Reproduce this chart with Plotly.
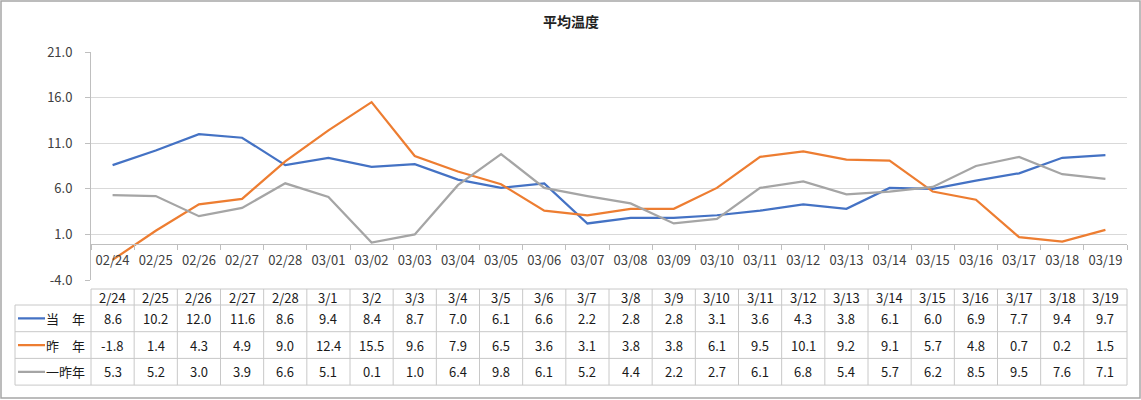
import plotly.graph_objects as go

W, H = 1141, 400

categories = ['02/24', '02/25', '02/26', '02/27', '02/28', '03/01', '03/02', '03/03',
              '03/04', '03/05', '03/06', '03/07', '03/08', '03/09', '03/10', '03/11',
              '03/12', '03/13', '03/14', '03/15', '03/16', '03/17', '03/18', '03/19']
table_dates = ['2/24', '2/25', '2/26', '2/27', '2/28', '3/1', '3/2', '3/3', '3/4', '3/5',
               '3/6', '3/7', '3/8', '3/9', '3/10', '3/11', '3/12', '3/13', '3/14', '3/15',
               '3/16', '3/17', '3/18', '3/19']
this_year = [8.6, 10.2, 12.0, 11.6, 8.6, 9.4, 8.4, 8.7, 7.0, 6.1, 6.6, 2.2,
             2.8, 2.8, 3.1, 3.6, 4.3, 3.8, 6.1, 6.0, 6.9, 7.7, 9.4, 9.7]
last_year = [-1.8, 1.4, 4.3, 4.9, 9.0, 12.4, 15.5, 9.6, 7.9, 6.5, 3.6, 3.1,
             3.8, 3.8, 6.1, 9.5, 10.1, 9.2, 9.1, 5.7, 4.8, 0.7, 0.2, 1.5]
two_years_ago = [5.3, 5.2, 3.0, 3.9, 6.6, 5.1, 0.1, 1.0, 6.4, 9.8, 6.1, 5.2,
                 4.4, 2.2, 2.7, 6.1, 6.8, 5.4, 5.7, 6.2, 8.5, 9.5, 7.6, 7.1]
series_names = ['当　年', '昨　年', '一昨年']
series_colors = ['#4472C4', '#ED7D31', '#A5A5A5']
title = '平均温度'

y_min, y_max, y_step = -4, 21, 5

FONT = 'Noto Sans CJK JP'
TXT = '#404040'
CELL_TXT = '#1a1a1a'
GRID = '#d9d9d9'
AXIS = '#bfbfbf'
TBL_LINE = '#c8c8c8'

# ---- layout geometry (pixels) ----
px_left, px_right = 91, 1127          # plot area
px_top, px_bottom = 52, 280
tbl_left, tbl_top = 15, 289           # data table
hdr_h, row_h = 16, 26.7
n = len(categories)
cat_w = (px_right - px_left) / n
leg_units = (px_left - tbl_left) / cat_w
pad = 0.06                             # in column units, avoids clipping border lines
pad_px = 2

series = [this_year, last_year, two_years_ago]

fig = go.Figure()
for name, vals, col in zip(series_names, series, series_colors):
    fig.add_trace(go.Scatter(x=categories, y=vals, mode='lines', name=name,
                             line=dict(color=col, width=2.25), showlegend=False,
                             hoverinfo='x+y'))

y_dom = [1 - px_bottom / H, 1 - px_top / H]
zero_pos = y_dom[0] + (0 - y_min) / (y_max - y_min) * (y_dom[1] - y_dom[0])
y_ticks = list(range(y_min, y_max + 1, y_step))

# ---- data table on its own axes (x2: column units aligned to categories, y2: pixels down) ----
row_edges = [0, hdr_h] + [hdr_h + row_h * (k + 1) for k in range(len(series))]
tbl_h = row_edges[-1]
x_left_edge = -0.5 - leg_units
x_right_edge = n - 0.5
row_centers = [(row_edges[k + 1] + row_edges[k + 2]) / 2 for k in range(len(series))]

# legend swatches in first column
sw_x0 = x_left_edge + 3 / cat_w
sw_x1 = x_left_edge + 30 / cat_w
for name, col, yc in zip(series_names, series_colors, row_centers):
    fig.add_trace(go.Scatter(x=[sw_x0, sw_x1], y=[yc, yc], mode='lines', xaxis='x2', yaxis='y2',
                             line=dict(color=col, width=2.25), showlegend=False, hoverinfo='skip'))

annotations = [dict(text=f'<b>{title}</b>', x=0.5, y=1 - 21 / H, xref='paper', yref='paper',
                    xanchor='center', yanchor='middle',
                    showarrow=False, font=dict(family=FONT, size=14, color='#222222'))]
txt_font = dict(family=FONT, size=13, color=CELL_TXT)
for i, d in enumerate(table_dates):
    annotations.append(dict(text=d, x=i, y=hdr_h / 2, xref='x2', yref='y2', showarrow=False,
                            font=txt_font))
for vals, yc in zip(series, row_centers):
    for i, v in enumerate(vals):
        annotations.append(dict(text=f'{v:.1f}', x=i, y=yc, xref='x2', yref='y2',
                                showarrow=False, font=txt_font))
for name, yc in zip(series_names, row_centers):
    annotations.append(dict(text=name, x=-0.5 - 4 / cat_w, y=yc, xref='x2', yref='y2',
                            xanchor='right', showarrow=False, font=txt_font))

shapes = []
line_style = dict(color=TBL_LINE, width=1)
# horizontal lines
shapes.append(dict(type='line', xref='x2', yref='y2', x0=-0.5, x1=x_right_edge,
                   y0=row_edges[0], y1=row_edges[0], line=line_style))
for yv in row_edges[1:]:
    shapes.append(dict(type='line', xref='x2', yref='y2', x0=x_left_edge, x1=x_right_edge,
                       y0=yv, y1=yv, line=line_style))
# vertical lines
shapes.append(dict(type='line', xref='x2', yref='y2', x0=x_left_edge, x1=x_left_edge,
                   y0=row_edges[1], y1=tbl_h, line=line_style))
for i in range(n + 1):
    xv = i - 0.5
    shapes.append(dict(type='line', xref='x2', yref='y2', x0=xv, x1=xv,
                       y0=row_edges[0], y1=tbl_h, line=line_style))
# outer chart border
shapes.append(dict(type='rect', xref='paper', yref='paper', x0=1 / W, x1=1 - 1 / W,
                   y0=2 / H, y1=1 - 1 / H, line=dict(color='#a6a6a6', width=1.5), layer='above'))

x2_dom = [(tbl_left - pad * cat_w) / W, (px_right + pad * cat_w) / W]
y2_dom = [1 - (tbl_top + tbl_h + pad_px) / H, 1 - (tbl_top - pad_px) / H]

fig.update_layout(
    template='none',
    width=W, height=H, margin=dict(l=0, r=0, t=0, b=0, autoexpand=False),
    paper_bgcolor='white', plot_bgcolor='white',
    font=dict(family=FONT, size=13, color=TXT),
    showlegend=False,
    xaxis=dict(domain=[px_left / W, px_right / W], type='category', range=[-0.5, n - 0.5],
               anchor='free', position=zero_pos, automargin=False,
               showline=True, linecolor=AXIS, linewidth=1,
               ticks='outside', ticklen=5, tickcolor=AXIS, tickson='boundaries',
               showgrid=False, zeroline=False, ticklabelstandoff=5,
               tickfont=dict(family=FONT, size=13, color=TXT)),
    yaxis=dict(domain=y_dom, range=[y_min, y_max], automargin=False,
               tickvals=y_ticks, ticktext=[f'{v:.1f}' for v in y_ticks],
               showline=True, linecolor=AXIS, linewidth=1,
               ticks='outside', ticklen=5, tickcolor=AXIS,
               showgrid=True, gridcolor=GRID, gridwidth=1, zeroline=False,
               ticklabelstandoff=10,
               tickfont=dict(family=FONT, size=13, color=TXT)),
    xaxis2=dict(domain=x2_dom, range=[x_left_edge - pad, x_right_edge + pad], anchor='y2',
                visible=False, automargin=False, fixedrange=True),
    yaxis2=dict(domain=y2_dom, range=[tbl_h + pad_px, -pad_px], anchor='x2',
                visible=False, automargin=False, fixedrange=True),
    annotations=annotations,
    shapes=shapes,
)

fig.write_html('out.html', config={'displayModeBar': False},
               post_script="document.body.style.margin='0px';")
